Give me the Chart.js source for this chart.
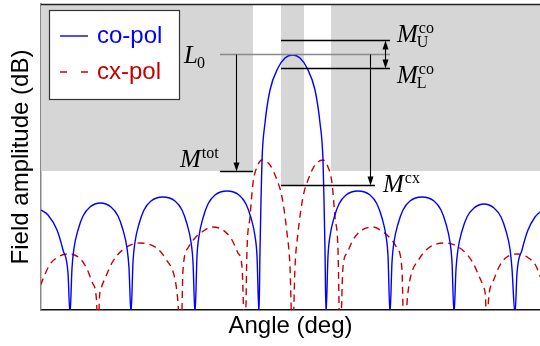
<!DOCTYPE html>
<html lang="en">
<head>
    <meta charset="UTF-8">
    <title>Field amplitude vs angle</title>
    <style>
        body { margin: 0; background: #fff; }
        #wrap { width: 540px; height: 346px; }
    </style>
    <script src="https://cdn.jsdelivr.net/npm/chart.js"></script>
</head>
<body>
    <div id="wrap"><canvas id="chart" width="540" height="346"></canvas></div>
    <script>
        // co-pol pattern (nulls sit just under the axis floor)
        const coAngle = [
            -25.15, -24.45, -23.55, -22.95, -22.45, -22.25,
            -22.05, -21.85, -21.45, -20.95, -20.25, -19.2, -18.15, -17.45, -16.95, -16.55, -16.35, -16.15,
            -15.95, -15.75, -15.35, -14.85, -14.15, -12.95, -11.75, -11.05, -10.55, -10.15, -9.95, -9.75,
            -9.55, -9.35, -8.95, -8.45, -7.75, -6.55, -5.35, -4.65, -4.15, -3.75, -3.55, -3.35,
            -3.25, -3.15, -3.05, -2.75, -2.25, -1.45, -0.75, 0, 0.75, 1.45, 2.25, 2.75, 3.05, 3.15, 3.25, 3.35,
            3.55, 3.75, 4.15, 4.65, 5.35, 6.55, 7.75, 8.45, 8.95, 9.35, 9.55, 9.75,
            9.95, 10.15, 10.55, 11.05, 11.75, 12.95, 14.15, 14.85, 15.35, 15.75, 15.95, 16.15,
            16.35, 16.55, 16.95, 17.45, 18.15, 19.15, 20.15, 20.85, 21.35, 21.75, 21.95, 22.25,
            22.45, 22.95, 23.55, 24.25, 24.75
        ];
        const coLevel = [
            -41.2, -42.2, -45.2, -49.2, -53.8, -62,
            -52.8, -48.8, -45.2, -42.4, -40.6, -39.8, -40.6, -42.4, -45.2, -48.8, -52.8, -62,
            -51.6, -47.6, -44.0, -41.2, -39.4, -38.6, -39.4, -41.2, -44.0, -47.6, -51.6, -62,
            -50.4, -46.4, -42.8, -40.0, -38.2, -37.4, -38.2, -40.0, -42.8, -46.4, -50.4, -62,
            -49.2, -39.2, -31.2, -23.8, -17.2, -12.8, -10.8, -10.2, -10.8, -12.8, -17.2, -23.8, -31.2, -39.2, -49.2, -62,
            -50.4, -46.4, -42.8, -40.0, -38.2, -37.4, -38.2, -40.0, -42.8, -46.4, -50.4, -62,
            -51.6, -47.6, -44.0, -41.2, -39.4, -38.6, -39.4, -41.2, -44.0, -47.6, -51.6, -62,
            -53.0, -49.0, -45.4, -42.6, -40.8, -40.0, -40.8, -42.6, -45.4, -49.0, -53.0, -62,
            -53.8, -49.2, -45.2, -42.6, -41.6
        ];

        // cx-pol pattern
        const cxAngle = [
            -25.2, -24.3, -23.6, -22.5, -21.3, -20.6, -20.0, -19.6, -19.45,
            -19.3, -19.1, -18.6, -18.0, -17.0, -15.3, -13.6, -12.6, -11.8, -11.5, -11.15,
            -10.95, -10.45, -9.75, -9.05, -8.05, -6.95, -6.05, -5.45, -5.05, -4.75,
            -4.55, -4.25, -3.95, -3.55, -3.05, -2.25, -1.55, -1.05, -0.55, -0.25, 0,
            0.25, 0.55, 1.05, 1.55, 2.25, 3.05, 3.55, 3.95, 4.25, 4.55, 4.75,
            5.05, 5.45, 6.05, 6.95, 8.05, 9.05, 9.75, 10.45, 10.95, 11.15,
            11.5, 11.8, 12.6, 13.6, 15.3, 17.0, 18.0, 18.6, 19.1, 19.3, 19.45,
            19.6, 20.0, 20.6, 21.3, 22.5, 23.6, 24.3, 24.8
        ];
        const cxLevel = [
            -56.2, -52.2, -50.8, -50.0, -50.8, -52.8, -55.8, -59.2, -68,
            -58.6, -56.6, -54.2, -51.6, -49.2, -47.8, -48.8, -51.2, -54.6, -58.6, -68,
            -53.2, -48.8, -46.8, -45.6, -44.6, -45.2, -47.2, -49.8, -52.6, -68,
            -49.2, -42.6, -35.8, -32.6, -31.2, -32.2, -35.2, -38.6, -45.8, -52.6, -68,
            -52.6, -45.8, -38.6, -35.2, -32.2, -31.2, -32.6, -35.8, -42.6, -49.2, -68,
            -52.6, -49.8, -47.2, -45.2, -44.6, -45.6, -46.8, -48.8, -53.2, -68,
            -58.6, -54.6, -51.2, -48.8, -47.8, -49.2, -51.6, -54.2, -56.6, -58.6, -68,
            -59.2, -55.8, -52.8, -50.8, -50.0, -50.8, -52.2, -54.6
        ];

        // mask levels (dB)
        const levelL0 = -10.0;
        const levelMU = -7.2;
        const levelML = -12.8;
        const levelMtot = -33.4;
        const levelMcx = -36.2;

        // gray mask regions: angle from / to, and lower level
        const maskFrom = [-25.2, -1.15, 3.85];
        const maskTo = [-3.95, 1.15, 24.8];
        const maskLevel = [levelMtot, levelMcx, levelMtot];

        const seriesNames = ['co-pol', 'cx-pol'];
        const blue = '#0000ff';
        const red = '#c80000';

        function toPoints(xs, ys) {
            return xs.map((x, i) => ({ x: x, y: ys[i] }));
        }

        function arrowHead(ctx, x, y, dir) {
            // dir 1: pointing down, -1: pointing up
            ctx.beginPath();
            ctx.moveTo(x, y);
            ctx.lineTo(x - 3, y - 9 * dir);
            ctx.lineTo(x + 3, y - 9 * dir);
            ctx.closePath();
            ctx.fill();
        }

        function hline(ctx, xs, x1, x2, y) {
            ctx.beginPath();
            ctx.moveTo(xs.getPixelForValue(x1), y);
            ctx.lineTo(xs.getPixelForValue(x2), y);
            ctx.stroke();
        }

        function mathLabel(ctx, x, y, main, sup, sub) {
            ctx.font = 'italic 25px "Liberation Serif", serif';
            ctx.fillText(main, x, y);
            const w = ctx.measureText(main).width;
            ctx.font = '16px "Liberation Serif", serif';
            if (sup) ctx.fillText(sup, x + w + 1, y - 9);
            if (sub) ctx.fillText(sub, x + w - 1, y + 5);
        }

        const maskPlugin = {
            id: 'masks',
            beforeDatasetsDraw(chart) {
                const { ctx, chartArea, scales } = chart;
                ctx.save();
                ctx.fillStyle = '#d6d6d6';
                for (let i = 0; i < maskFrom.length; i++) {
                    const x1 = Math.max(scales.x.getPixelForValue(maskFrom[i]), chartArea.left);
                    const x2 = Math.min(scales.x.getPixelForValue(maskTo[i]), chartArea.right);
                    const y = scales.y.getPixelForValue(maskLevel[i]);
                    ctx.fillRect(x1, chartArea.top, x2 - x1, y - chartArea.top);
                }
                ctx.restore();
            },
            afterDatasetsDraw(chart) {
                const { ctx, chartArea, scales } = chart;
                const xs = scales.x, ys = scales.y;
                const yL0 = Math.round(ys.getPixelForValue(levelL0)) + 0.5;
                const yMU = Math.round(ys.getPixelForValue(levelMU)) + 0.5;
                const yML = Math.round(ys.getPixelForValue(levelML)) + 0.5;
                const yTot = Math.round(ys.getPixelForValue(levelMtot)) + 0.5;
                const yCx = Math.round(ys.getPixelForValue(levelMcx)) + 0.5;
                ctx.save();

                // reference level L0
                ctx.strokeStyle = '#8a8a8a';
                ctx.lineWidth = 1.3;
                hline(ctx, xs, -7.25, 9.75, yL0);

                // mask lines
                ctx.strokeStyle = '#000';
                ctx.fillStyle = '#000';
                hline(ctx, xs, -1.15, 9.75, yMU);
                hline(ctx, xs, -1.15, 9.75, yML);
                hline(ctx, xs, -7.25, -3.95, yTot);
                hline(ctx, xs, -1.15, 8.25, yCx);

                // arrows
                ctx.lineWidth = 1.1;
                const ax1 = Math.round(xs.getPixelForValue(-5.6)) + 0.5;
                ctx.beginPath(); ctx.moveTo(ax1, yL0); ctx.lineTo(ax1, yTot - 6); ctx.stroke();
                arrowHead(ctx, ax1, yTot, 1);

                const ax2 = Math.round(xs.getPixelForValue(7.75)) + 0.5;
                ctx.beginPath(); ctx.moveTo(ax2, yL0); ctx.lineTo(ax2, yCx - 6); ctx.stroke();
                arrowHead(ctx, ax2, yCx, 1);

                const ax3 = Math.round(xs.getPixelForValue(9.25)) + 0.5;
                ctx.beginPath(); ctx.moveTo(ax3, yMU + 6); ctx.lineTo(ax3, yML - 6); ctx.stroke();
                arrowHead(ctx, ax3, yMU, -1);
                arrowHead(ctx, ax3, yML, 1);

                // labels
                ctx.textAlign = 'left';
                ctx.textBaseline = 'alphabetic';
                mathLabel(ctx, 184, 63, 'L', null, '0');
                mathLabel(ctx, 180, 167, 'M', 'tot', null);
                mathLabel(ctx, 397, 42, 'M', 'co', 'U');
                mathLabel(ctx, 397, 83, 'M', 'co', 'L');
                mathLabel(ctx, 383, 192, 'M', 'cx', null);

                // top frame line
                ctx.strokeStyle = '#222';
                ctx.lineWidth = 1.3;
                ctx.beginPath();
                ctx.moveTo(chartArea.left, chartArea.top + 0.5);
                ctx.lineTo(chartArea.right, chartArea.top + 0.5);
                ctx.stroke();
                ctx.restore();
            },
            afterDraw(chart) {
                // legend box
                const ctx = chart.ctx;
                ctx.save();
                ctx.fillStyle = '#fff';
                ctx.fillRect(49.5, 10.5, 130, 89);
                ctx.strokeStyle = '#333';
                ctx.lineWidth = 1.2;
                ctx.strokeRect(49.5, 10.5, 130, 89);

                ctx.lineWidth = 1.4;
                ctx.strokeStyle = blue;
                ctx.beginPath(); ctx.moveTo(60, 36); ctx.lineTo(88, 36); ctx.stroke();
                ctx.strokeStyle = red;
                ctx.setLineDash([7, 14]);
                ctx.beginPath(); ctx.moveTo(60, 72); ctx.lineTo(88, 72); ctx.stroke();
                ctx.setLineDash([]);

                ctx.font = '24px "Liberation Sans", Arial, sans-serif';
                ctx.textBaseline = 'alphabetic';
                ctx.fillStyle = blue;
                ctx.fillText(seriesNames[0], 97, 43);
                ctx.fillStyle = red;
                ctx.fillText(seriesNames[1], 97, 79);
                ctx.restore();
            }
        };

        const ctx = document.getElementById('chart').getContext('2d');
        new Chart(ctx, {
            type: 'line',
            data: {
                datasets: [
                    {
                        label: seriesNames[0],
                        data: toPoints(coAngle, coLevel),
                        borderColor: blue,
                        borderWidth: 1.4,
                        pointRadius: 0,
                        cubicInterpolationMode: 'monotone',
                    },
                    {
                        label: seriesNames[1],
                        data: toPoints(cxAngle, cxLevel),
                        borderColor: red,
                        borderWidth: 1.4,
                        borderDash: [7, 5],
                        pointRadius: 0,
                        cubicInterpolationMode: 'monotone',
                    },
                ],
            },
            options: {
                responsive: false,
                animation: false,
                layout: { padding: { top: 4, left: 0, right: 0, bottom: 0 } },
                elements: { line: { capBezierPoints: false } },
                plugins: {
                    legend: { display: false },
                    tooltip: { enabled: false },
                },
                scales: {
                    x: {
                        type: 'linear',
                        min: -25.15,
                        max: 24.75,
                        grid: { display: false },
                        ticks: { display: false },
                        border: { display: true, color: '#111', width: 1.5 },
                        title: {
                            display: true,
                            text: 'Angle (deg)',
                            color: '#000',
                            font: { family: '"Liberation Sans", Arial, sans-serif', size: 24 },
                            padding: { top: 0, bottom: 5 },
                        },
                        afterFit: (scale) => { scale.height = 36; },
                    },
                    y: {
                        min: -61.2,
                        max: 0,
                        grid: { display: false },
                        ticks: { display: false },
                        border: { display: true, color: '#888', width: 1.5 },
                        title: {
                            display: true,
                            text: 'Field amplitude (dB)',
                            color: '#000',
                            font: { family: '"Liberation Sans", Arial, sans-serif', size: 24 },
                            padding: { top: 7, bottom: 0 },
                        },
                        afterFit: (scale) => { scale.width = 41; },
                    },
                },
            },
            plugins: [maskPlugin],
        });
    </script>
</body>
</html>
